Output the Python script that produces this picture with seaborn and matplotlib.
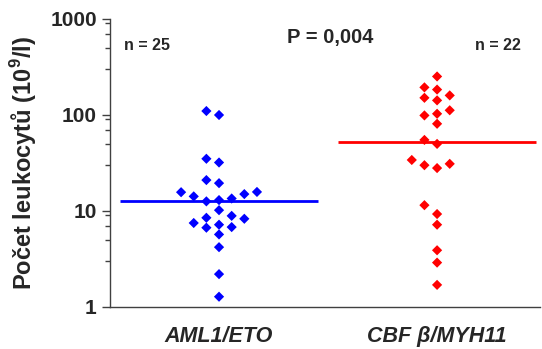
import numpy as np
import pandas as pd
import matplotlib
matplotlib.use("Agg")
import matplotlib.pyplot as plt
import seaborn as sns
from matplotlib.ticker import LogLocator, FixedLocator, NullFormatter

# Leukocyte counts (10^9/l) per patient group
groups = ["AML1/ETO", "CBF β/MYH11"]
aml1_eto = [110, 100, 35, 32, 21, 19.5, 15.8, 15.7, 15, 14.2, 13.5, 13, 12.6,
            10.2, 8.9, 8.5, 8.3, 7.5, 7.2, 6.8, 6.7, 5.7, 4.2, 2.2, 1.28]
cbfb_myh11 = [252, 194, 184, 160, 151, 142, 112, 103, 99, 81, 55, 50,
              34, 31, 30, 28, 11.5, 9.3, 7.2, 3.9, 2.9, 1.7]
colors = ["#0000ff", "#ff0000"]
y_ticks = [1, 10, 100, 1000]
y_tick_labels = ["1", "10", "100", "1000"]
n_labels = ["n = 25", "n = 22"]
p_label = "P = 0,004"


def swarm_offsets(values, min_gap=0.1, step=0.058):
    """Greedy grid beeswarm in log space: each point takes the nearest free column."""
    logs = np.log10(values)
    order = np.argsort(logs)
    placed = []
    offsets = np.zeros(len(values))
    for i in order:
        y = logs[i]
        for k in [0, -1, 1, -2, 2, -3, 3, -4, 4, -5, 5]:
            if all(not (pk == k and abs(py - y) < min_gap) for pk, py in placed):
                placed.append((k, y))
                offsets[i] = k * step
                break
    return offsets


rows = []
for gi, (name, vals) in enumerate(zip(groups, [aml1_eto, cbfb_myh11])):
    offs = swarm_offsets(vals)
    for v, o in zip(vals, offs):
        rows.append({"group": name, "pos": gi + o, "value": v})
df = pd.DataFrame(rows)

sns.set_theme(style="white")
plt.rcParams["font.family"] = ["Liberation Sans", "DejaVu Sans"]
plt.rcParams["mathtext.fontset"] = "custom"
plt.rcParams["mathtext.rm"] = "Liberation Sans"
plt.rcParams["mathtext.bf"] = "Liberation Sans:bold"

fig = plt.figure(figsize=(5.42, 3.49), dpi=100)
ax = fig.add_axes([110 / 542, 1 - 307 / 349, 430 / 542, 288 / 349])

sns.scatterplot(data=df, x="pos", y="value", hue="group", palette=colors,
                marker="D", s=27, edgecolor="none", legend=False, ax=ax)

# Median lines
for gi, vals in enumerate([aml1_eto, cbfb_myh11]):
    ax.hlines(np.median(vals), gi - 0.455, gi + 0.455, color=colors[gi], lw=2.0)

ax.set_yscale("log")
ax.set_ylim(1, 1000)
ax.set_xlim(-0.5, 1.472)
ax.yaxis.set_major_locator(FixedLocator(y_ticks))
ax.set_yticklabels(y_tick_labels, fontsize=15, fontweight="bold")
ax.yaxis.set_minor_locator(LogLocator(base=10, subs=[3, 5, 7, 9]))
ax.yaxis.set_minor_formatter(NullFormatter())
ax.set_xticks([0, 1])
ax.set_xticklabels(groups, fontsize=15.5, fontweight="bold", style="italic")
ax.tick_params(axis="y", which="major", direction="out", length=6, width=1.0,
               color="#404040", pad=3.5, left=True)
ax.tick_params(axis="y", which="minor", direction="out", length=3.5, width=1.0,
               color="#404040", left=True)
ax.tick_params(axis="x", length=0, pad=14)
ax.set_xlabel("")
ax.set_ylabel("Počet leukocytů (10$^{\\mathbf{9}}$/l)", fontsize=17,
              fontweight="bold", labelpad=8)

for side in ["top", "right"]:
    ax.spines[side].set_visible(False)
for side in ["left", "bottom"]:
    ax.spines[side].set_color("#404040")
    ax.spines[side].set_linewidth(1.0)
ax.grid(False)

fig.text(147.5 / 542, 1 - 45.7 / 349, n_labels[0], ha="center", va="center",
         fontsize=11.5, fontweight="bold")
fig.text(497.5 / 542, 1 - 45.5 / 349, n_labels[1], ha="center", va="center",
         fontsize=11.5, fontweight="bold")
fig.text(330 / 542, 1 - 38 / 349, p_label, ha="center", va="center",
         fontsize=14.5, fontweight="bold")

fig.savefig("out.png", dpi=100)
